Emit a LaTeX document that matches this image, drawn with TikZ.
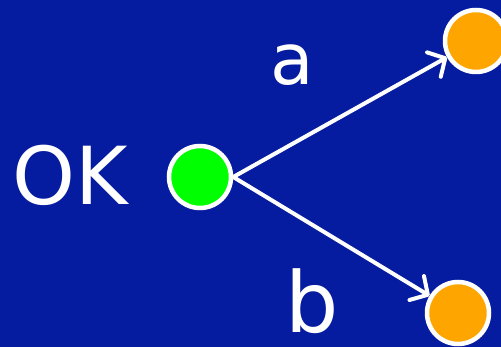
\documentclass[tikz,border=0pt]{standalone}
\usepackage{fontspec}
\setmainfont{DejaVu Sans}
\usepackage{xcolor}
\usepackage{tikz}
\usetikzlibrary{arrows.meta}
\definecolor{slideblue}{RGB}{5,28,160}
\definecolor{stategreen}{RGB}{0,255,0}
\definecolor{stateorange}{RGB}{255,165,0}

\begin{document}
\begin{tikzpicture}[x=1pt, y=-1pt,
    state/.style={circle, draw=white, line width=4.5pt, minimum size=62pt, inner sep=0pt},
    trans/.style={white, line width=4pt, line cap=round,
        -{Straight Barb[length=13pt, width=28pt, line cap=round, line join=round]}},
    lbl/.style={text=white, inner sep=0pt, anchor=base west}]
  % background
  \fill[slideblue] (0,0) rectangle (501,347);
  \useasboundingbox (0,0) rectangle (501,347);
  % states
  \node[state, fill=stategreen] (ok) at (200,177) {};
  \node[state, fill=stateorange] (up) at (476,41) {};
  \node[state, fill=stateorange] (down) at (458,313) {};
  % labels
  \node[lbl, font=\fontsize{80}{80}\selectfont] (oklbl) at (12,205) {OK};
  \node[lbl, font=\fontsize{71}{71}\selectfont] (albl) at (270,85) {a};
  \node[lbl, font=\fontsize{84}{84}\selectfont] (blbl) at (285,333) {b};
  % transitions
  \draw[trans] (ok.east) -- (up);
  \draw[trans] (ok.east) -- (down);
\end{tikzpicture}
\end{document}
